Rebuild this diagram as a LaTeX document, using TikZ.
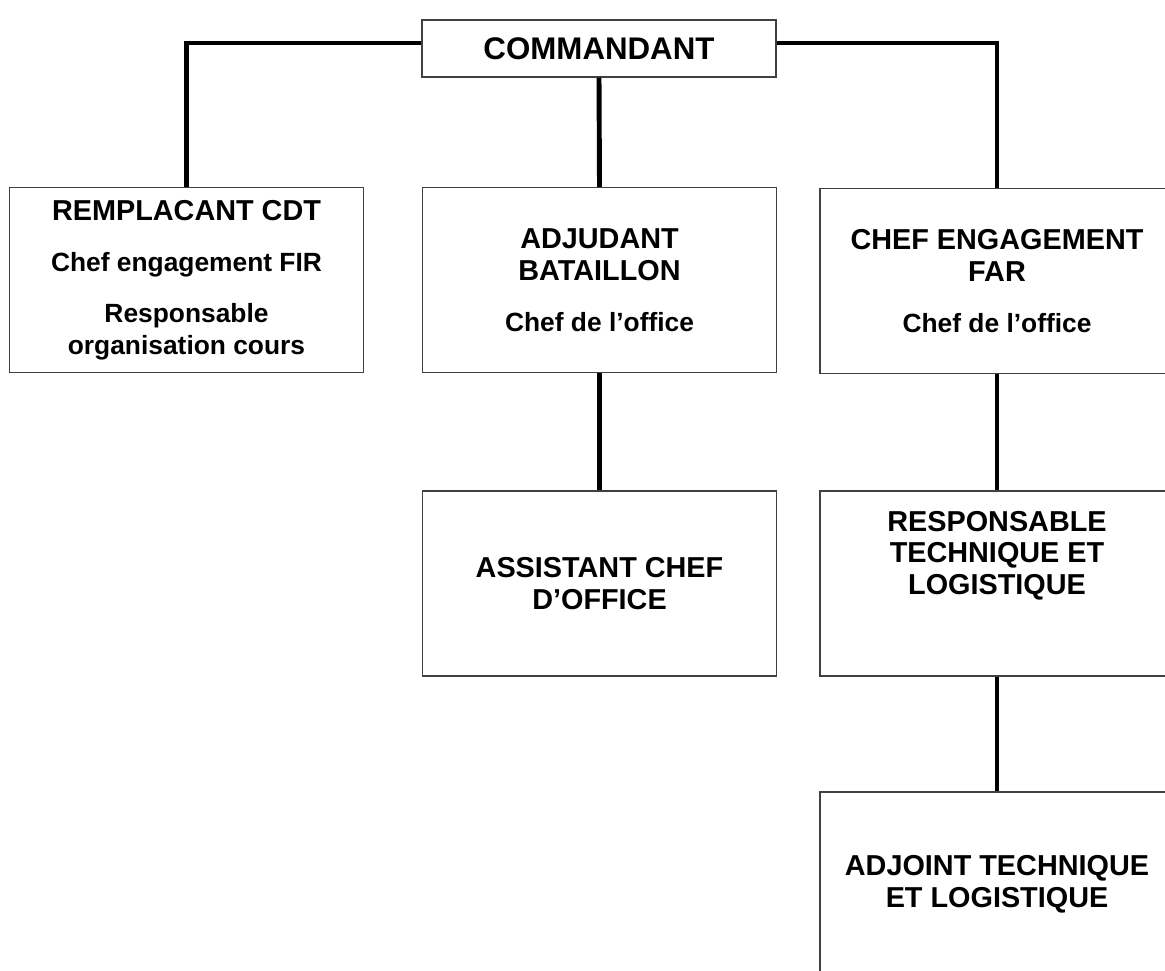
\documentclass[tikz,border=0pt]{standalone}
\usepackage{fontspec}
\setmainfont{Liberation Sans}
\usetikzlibrary{positioning}

\newcommand{\sublbl}[1]{{\fontsize{15}{18}\selectfont #1}}

\begin{document}
\begin{tikzpicture}[x=0.02cm, y=-0.02cm,
   box/.style={draw=black!75, line width=0.7pt, fill=white, inner sep=0pt,
               minimum width=7.08cm, minimum height=3.7cm, align=center,
               font=\fontsize{16.4}{18}\selectfont\bfseries},
   link/.style={draw=black, line width=2.8pt}]
   \useasboundingbox (0,0) rectangle (1165,970);
   \clip (0,0) rectangle (1165,970);
   % top of the chart
   \node[box, minimum height=1.14cm, font=\fontsize{17.8}{20}\selectfont\bfseries] (cmd) at (599,48.5) {COMMANDANT};
   % first level
   \node[box] (rem) at (186.5,280) {REMPLACANT CDT\\[11pt]\sublbl{Chef engagement FIR}\\[11pt]\sublbl{Responsable}\\\sublbl{organisation cours}};
   \node[box] (adj) at (599.5,280) {ADJUDANT\\BATAILLON\\[11pt]\sublbl{Chef de l’office}};
   \node[box] (far) at (997,281) {CHEF ENGAGEMENT\\FAR\\[11pt]\sublbl{Chef de l’office}};
   % second level
   \node[box] (asst) at (599.5,583.5) {ASSISTANT CHEF\\D’OFFICE};
   \node[box] (resp) at (997,583.5) {};
   \node[align=center, font=\fontsize{16.4}{18}\selectfont\bfseries] (resptxt) at ([yshift=0.56cm]resp.center) {RESPONSABLE\\TECHNIQUE ET\\LOGISTIQUE};
   % third level
   \node[box] (adjt) at (997,884.5) {ADJOINT TECHNIQUE\\ET LOGISTIQUE};
   % connectors
   \draw[link] ([yshift=0.11cm]cmd.west) -| (rem.north);
   \draw[link] ([yshift=0.11cm]cmd.east) -| (far.north);
   \draw[link] (cmd.south) -- (adj.north);
   \draw[link] (adj.south) -- (asst.north);
   \draw[link] (far.south) -- (resp.north);
   \draw[link] (resp.south) -- (adjt.north);
\end{tikzpicture}
\end{document}
